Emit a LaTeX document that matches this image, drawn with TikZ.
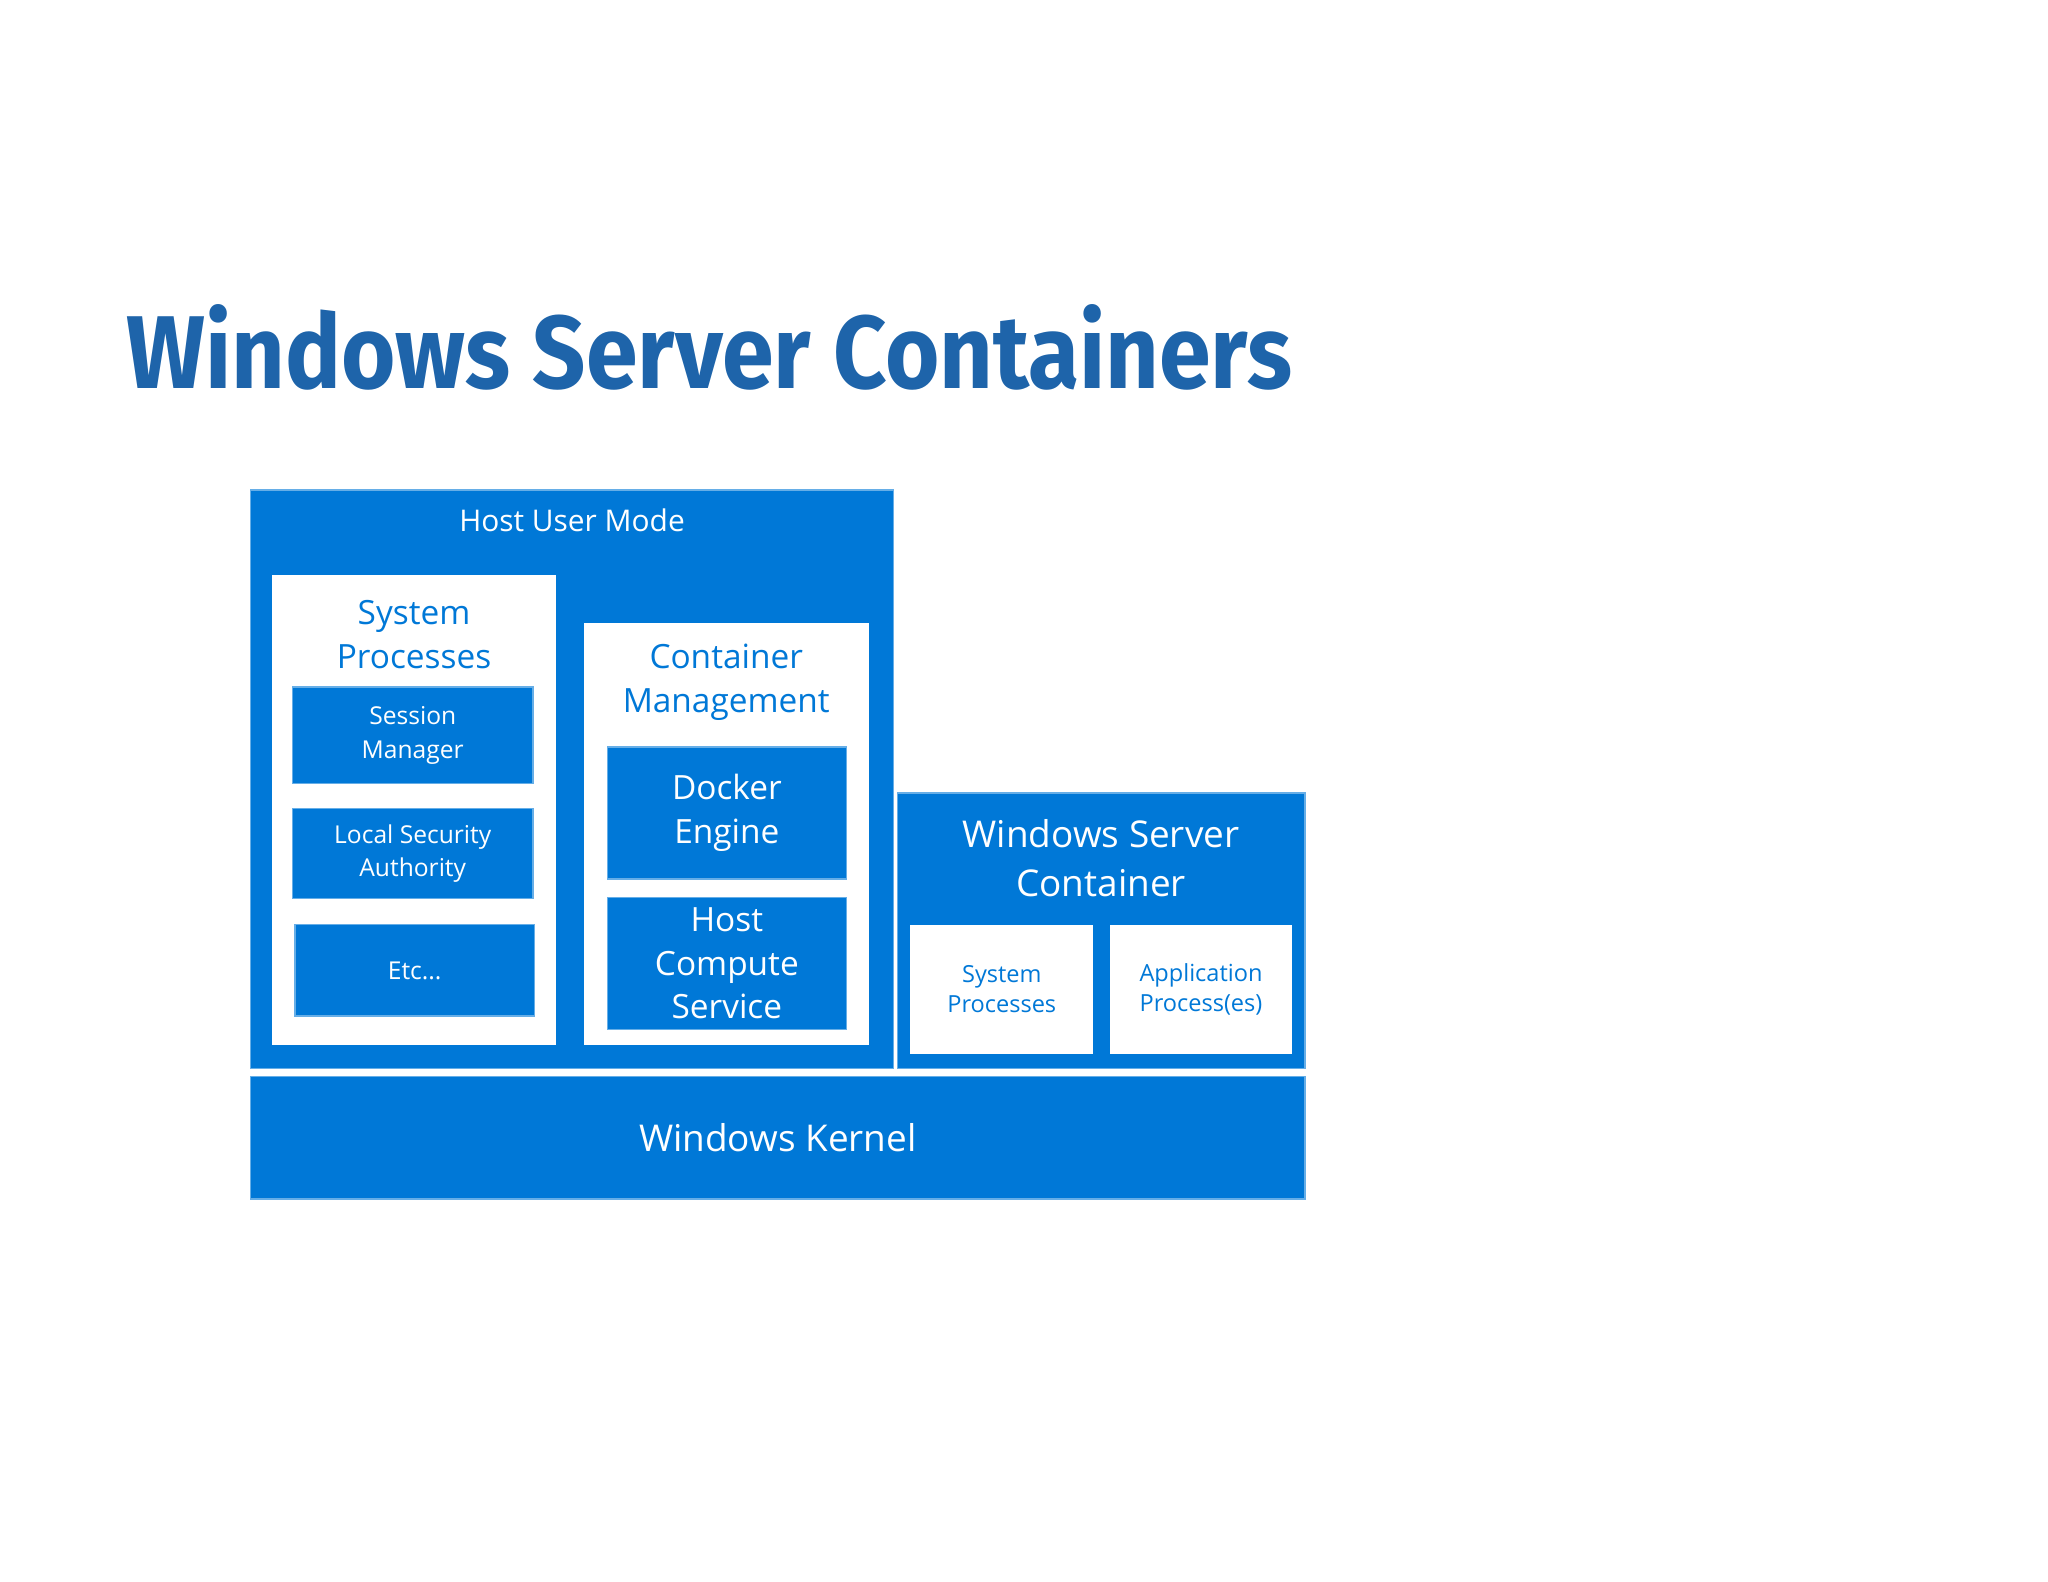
\documentclass[tikz,border=0pt]{standalone}
\usepackage{fontspec}
\setmainfont{Open Sans}
\newfontfamily\titlefont{Fira Sans}
\definecolor{winblue}{RGB}{0,120,215}
\definecolor{titleblue}{RGB}{30,100,170}
\def\u{0.01306cm}
\tikzset{
	blk/.style={fill=winblue, draw=winblue!60, text=white, align=center, inner sep=0pt},
	wbox/.style={fill=white, draw=none, text=winblue, align=center, inner sep=0pt},
	lbl/.style={text=white, align=center, inner sep=0pt}
}
\begin{document}
\begin{tikzpicture}[x=\u, y=-\u]
\useasboundingbox (0,0) rectangle (1568,1211);
% title
\node[text=titleblue, inner sep=0pt] (title) at (543,266)
	{\resizebox{11.66cm}{0.84cm}{\titlefont\bfseries Windows Server Containers}};
% host user mode
\node[blk, minimum width=492*\u, minimum height=443*\u] (host) at (438,596.5) {};
\node[lbl, font=\fontsize{8.5}{11}\selectfont] (hostlbl) at (438,398) {Host User Mode};
% system processes
\node[wbox, minimum width=218*\u, minimum height=360*\u] (sys) at (317,620) {};
\node[text=winblue, align=center, inner sep=0pt, font=\fontsize{9.5}{12.5}\selectfont] (syslbl) at (317,486) {System\\Processes};
\node[blk, font=\fontsize{7}{9.5}\selectfont, minimum width=184*\u, minimum height=74*\u] (sess) at (316,563) {Session\\Manager};
\node[blk, font=\fontsize{7}{9.5}\selectfont, minimum width=184*\u, minimum height=69*\u] (lsa) at (316,653.5) {Local Security\\Authority};
\node[blk, font=\fontsize{7}{9.5}\selectfont, minimum width=183*\u, minimum height=70*\u] (etc) at (317.5,743) {Etc...};
% container management
\node[wbox, minimum width=218*\u, minimum height=323*\u] (mgmt) at (556,638.5) {};
\node[text=winblue, align=center, inner sep=0pt, font=\fontsize{9.5}{12.5}\selectfont] (mgmtlbl) at (556,522) {Container\\Management};
\node[blk, font=\fontsize{9.5}{12.5}\selectfont, minimum width=183*\u, minimum height=101*\u] (docker) at (556.5,622.5) {Docker\\Engine};
\node[blk, font=\fontsize{9.5}{12.5}\selectfont, minimum width=183*\u, minimum height=101*\u] (hcs) at (556.5,737.5) {Host\\Compute\\Service};
% windows server container
\node[blk, minimum width=312*\u, minimum height=211*\u] (wsc) at (843,712.5) {};
\node[lbl, font=\fontsize{10.5}{14}\selectfont] (wsclbl) at (843,657) {Windows Server\\Container};
\node[wbox, font=\fontsize{6.7}{8.6}\selectfont, minimum width=140*\u, minimum height=99*\u] (csys) at (767,757.5) {System\\Processes};
\node[wbox, font=\fontsize{6.7}{8.6}\selectfont, minimum width=139*\u, minimum height=99*\u] (capp) at (919.5,757.5) {Application\\Process(es)};
% kernel
\node[blk, font=\fontsize{10.5}{13}\selectfont, minimum width=807*\u, minimum height=94*\u] (kernel) at (595.5,871) {Windows Kernel};
\end{tikzpicture}
\end{document}
